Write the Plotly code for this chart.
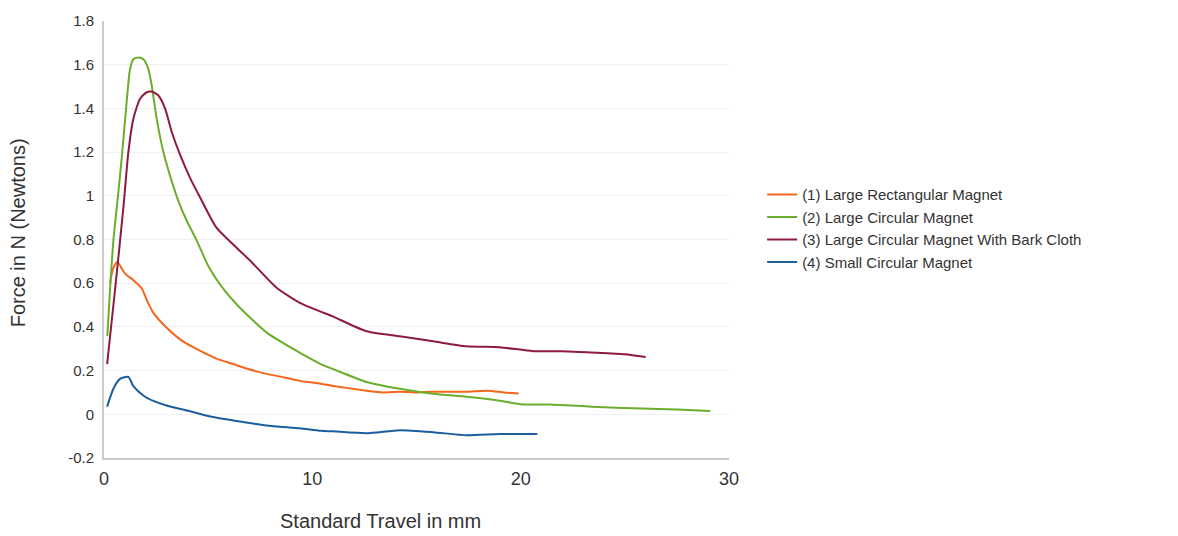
import plotly.graph_objects as go

# ---- data ----
rect_x = [0.28, 0.45, 0.64, 1.0, 1.41, 1.81, 2.05, 2.37, 3.01, 3.65, 4.28, 5.4, 6.2, 7.0, 7.8,
          8.6, 9.4, 10.4, 11.0, 12.6, 13.4, 14.2, 15.0, 15.8, 17.4, 18.4, 19.2, 19.9]
rect_y = [0.60, 0.67, 0.697, 0.645, 0.614, 0.577, 0.524, 0.464, 0.396, 0.343, 0.307, 0.255, 0.23,
          0.205, 0.185, 0.17, 0.153, 0.14, 0.13, 0.108, 0.10, 0.103, 0.10, 0.103, 0.103, 0.108,
          0.10, 0.095]

circ_x = [0.16, 0.29, 0.45, 0.65, 0.85, 1.06, 1.25, 1.41, 1.65, 1.89, 2.13, 2.29, 2.53, 2.85,
          3.25, 3.57, 4.0, 4.45, 5.0, 5.6, 6.5, 7.8, 9.1, 10.4, 11.0, 12.6, 14.2, 15.8, 17.4,
          19.0, 20.1, 21.4, 23.4, 25.8, 27.5, 29.1]
circ_y = [0.358, 0.57, 0.795, 0.98, 1.172, 1.40, 1.58, 1.625, 1.633, 1.625, 1.58, 1.505, 1.353,
          1.20, 1.067, 0.976, 0.88, 0.795, 0.68, 0.59, 0.49, 0.375, 0.298, 0.23, 0.207, 0.148,
          0.117, 0.094, 0.08, 0.062, 0.045, 0.045, 0.035, 0.026, 0.022, 0.015]

bark_x = [0.15, 0.53, 0.93, 1.17, 1.41, 1.73, 2.05, 2.29, 2.61, 2.93, 3.25, 3.65, 4.13, 4.62,
          5.4, 7.0, 8.3, 9.4, 10.4, 11.0, 12.6, 14.2, 15.8, 17.4, 19.0, 20.6, 22.0, 23.4, 25.0,
          26.0]
bark_y = [0.23, 0.57, 0.946, 1.20, 1.353, 1.444, 1.474, 1.477, 1.459, 1.40, 1.293, 1.188, 1.082,
          0.991, 0.854, 0.705, 0.578, 0.51, 0.47, 0.447, 0.38, 0.357, 0.334, 0.311, 0.307,
          0.289, 0.289, 0.283, 0.275, 0.262]

small_x = [0.15, 0.45, 0.77, 1.17, 1.4, 1.9, 2.4, 3.0, 4.0, 5.1, 6.2, 7.8, 9.4, 10.4, 11.0,
           12.6, 14.2, 15.8, 17.4, 19.0, 20.8]
small_y = [0.035, 0.117, 0.162, 0.171, 0.13, 0.085, 0.06, 0.04, 0.017, -0.01, -0.028, -0.051,
           -0.064, -0.075, -0.078, -0.087, -0.073, -0.082, -0.096, -0.09, -0.09]

names = ["(1) Large Rectangular Magnet", "(2) Large Circular Magnet",
         "(3) Large Circular Magnet With Bark Cloth", "(4) Small Circular Magnet"]
colors = ["#F4661B", "#6CAE2C", "#8E1B3E", "#1B5E9E"]

x_ticks = [0, 10, 20, 30]
y_ticks = [-0.2, 0, 0.2, 0.4, 0.6, 0.8, 1, 1.2, 1.4, 1.6, 1.8]
y_tick_text = ["-0.2", "0", "0.2", "0.4", "0.6", "0.8", "1", "1.2", "1.4", "1.6", "1.8"]

FONT = "Arial, Liberation Sans, sans-serif"
TXT = "#333333"

fig = go.Figure()
for xs, ys, nm, col in zip([rect_x, circ_x, bark_x, small_x],
                           [rect_y, circ_y, bark_y, small_y], names, colors):
    fig.add_trace(go.Scatter(x=xs, y=ys, mode="lines", name=nm,
                             line=dict(color=col, width=2, shape="spline", smoothing=0.6)))

fig.update_layout(
    width=1178, height=536,
    margin=dict(l=104, r=449, t=17, b=78),
    plot_bgcolor="white", paper_bgcolor="white",
    font=dict(family=FONT, color=TXT),
    showlegend=True,
    legend=dict(x=1.053, y=0.64, xanchor="left", yanchor="top",
                font=dict(size=15, color=TXT, family=FONT),
                bgcolor="rgba(0,0,0,0)", tracegroupgap=0, itemwidth=30),
    xaxis=dict(range=[0, 30], tickvals=x_ticks, ticktext=[str(v) for v in x_ticks],
               showgrid=False, zeroline=False, showline=True, linecolor="#cccccc",
               linewidth=2, ticks="", tickfont=dict(size=18, color=TXT),
               ticklabelstandoff=3),
    yaxis=dict(range=[-0.2, 1.8], tickvals=y_ticks, ticktext=y_tick_text,
               showgrid=True, gridcolor="#f0f0f0", gridwidth=1, zeroline=False,
               showline=True, linecolor="#cccccc", linewidth=2, ticks="",
               tickfont=dict(size=15, color=TXT), ticklabelstandoff=5),
    annotations=[
        dict(text="Standard Travel in mm", x=0.4425, y=-0.145, xref="paper", yref="paper",
             xanchor="center", yanchor="middle", showarrow=False,
             font=dict(size=20, color=TXT, family=FONT)),
        dict(text="Force in N (Newtons)", x=-0.137, y=0.515, xref="paper", yref="paper",
             xanchor="center", yanchor="middle", showarrow=False, textangle=-90,
             font=dict(size=20, color=TXT, family=FONT)),
    ],
)

fig.write_html("out.html")
